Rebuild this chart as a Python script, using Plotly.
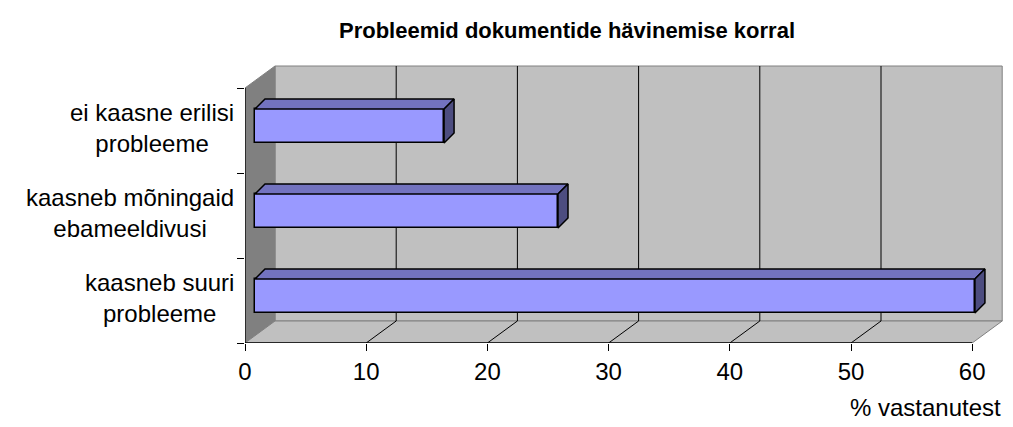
import numpy as np
import plotly.graph_objects as go

# data (bottom to top, as drawn)
categories = ["kaasneb suuri<br>probleeme",
              "kaasneb mõningaid<br>ebameeldivusi",
              "ei kaasne erilisi<br>probleeme"]
values = [59.4, 25.0, 15.6]
x_ticks = [0, 10, 20, 30, 40, 50, 60]
x_max = 60

# 3D look, in axis units (px / px-per-unit)
PX_X = 12.12          # px per % on x
PX_Y = 85.0           # px per category band
WALL_DX = 30 / PX_X   # depth offset of back wall
WALL_DY = 22 / PX_Y
BAR_X0 = 10 / PX_X    # front face of bars sits a bit inside
BAR_DX = 10 / PX_X    # bar depth
BAR_DY = 10 / PX_Y
BAR_UP = 4.5 / PX_Y
BAR_H = 0.2

n = len(categories)
pos = np.arange(n)
y_lo, y_hi = -0.5, n - 0.5

fig = go.Figure()

shapes = []


def poly(pts, fill, line="#808080", width=1, layer="below"):
    path = "M " + " L ".join(f"{x},{y}" for x, y in pts) + " Z"
    shapes.append(dict(type="path", path=path, xref="x", yref="y",
                       fillcolor=fill, line=dict(color=line, width=width),
                       layer=layer))


def seg(x0, y0, x1, y1, color="black", width=1, layer="below"):
    shapes.append(dict(type="line", x0=x0, y0=y0, x1=x1, y1=y1, xref="x", yref="y",
                       line=dict(color=color, width=width), layer=layer))


# walls and floor
poly([(WALL_DX, y_lo + WALL_DY), (x_max + WALL_DX, y_lo + WALL_DY),
      (x_max + WALL_DX, y_hi + WALL_DY), (WALL_DX, y_hi + WALL_DY)], "#c0c0c0")
poly([(0, y_lo), (0, y_hi), (WALL_DX, y_hi + WALL_DY), (WALL_DX, y_lo + WALL_DY)], "#808080")
poly([(0, y_lo), (x_max, y_lo), (x_max + WALL_DX, y_lo + WALL_DY),
      (WALL_DX, y_lo + WALL_DY)], "#c0c0c0")

# gridlines on back wall and floor
for t in x_ticks[1:-1]:
    seg(t + WALL_DX, y_lo + WALL_DY, t + WALL_DX, y_hi + WALL_DY)
    seg(t, y_lo, t + WALL_DX, y_lo + WALL_DY)

# axis lines
seg(0, y_lo, x_max, y_lo, width=1.3, layer="above")
seg(0, y_lo, 0, y_hi, width=1.3, layer="above")

# bar front faces
fig.add_trace(go.Bar(
    y=pos + BAR_UP,
    x=values,
    base=BAR_X0,
    orientation="h",
    width=2 * BAR_H,
    marker=dict(color="#9999ff", line=dict(color="black", width=1.5)),
    hoverinfo="skip",
    showlegend=False,
))

# top and side faces
for p, v in zip(pos, values):
    c = p + BAR_UP
    x0, x1 = BAR_X0, BAR_X0 + v
    top_x = [x0, x1, x1 + BAR_DX, x0 + BAR_DX, x0]
    top_y = [c + BAR_H, c + BAR_H, c + BAR_H + BAR_DY, c + BAR_H + BAR_DY, c + BAR_H]
    fig.add_trace(go.Scatter(x=top_x, y=top_y, fill="toself", mode="lines",
                             fillcolor="#7373bf", line=dict(color="black", width=1.5),
                             hoverinfo="skip", showlegend=False))
    side_x = [x1, x1 + BAR_DX, x1 + BAR_DX, x1, x1]
    side_y = [c + BAR_H, c + BAR_H + BAR_DY, c - BAR_H + BAR_DY, c - BAR_H, c + BAR_H]
    fig.add_trace(go.Scatter(x=side_x, y=side_y, fill="toself", mode="lines",
                             fillcolor="#4d4d80", line=dict(color="black", width=1.5),
                             hoverinfo="skip", showlegend=False))

W, H = 1013, 427
ml, mr, mt, mb = 245, 8, 60, 84
plot_h = H - mt - mb

# category labels
annotations = []
for p, cat in zip(pos, categories):
    annotations.append(dict(x=0, y=p + 0.03, xref="paper", yref="y", text=cat,
                            showarrow=False, xanchor="right", yanchor="middle",
                            align="center", xshift=-9,
                            font=dict(size=24, color="black")))
annotations.append(dict(x=1, y=-64 / plot_h, xref="paper", yref="paper",
                        text="% vastanutest", showarrow=False,
                        xanchor="right", yanchor="middle", xshift=-2,
                        font=dict(size=24, color="black")))

fig.update_layout(
    width=W, height=H,
    margin=dict(l=ml, r=mr, t=mt, b=mb),
    paper_bgcolor="white", plot_bgcolor="white",
    font=dict(family="Liberation Sans, Arial, sans-serif", color="black"),
    title=dict(text="<b>Probleemid dokumentide hävinemise korral</b>",
               x=567 / W, xanchor="center", xref="container",
               y=1 - 30 / H, yanchor="middle", yref="container",
               font=dict(size=22, color="black")),
    xaxis=dict(range=[0, (W - ml - mr) / PX_X], tickvals=x_ticks,
               ticks="outside", ticklen=7, tickcolor="black", tickwidth=1.3,
               showgrid=False, zeroline=False, showline=False,
               tickfont=dict(size=24)),
    yaxis=dict(range=[y_lo, y_lo + plot_h / PX_Y],
               tickvals=[y_lo + k for k in range(n + 1)],
               ticks="outside", ticklen=7, tickcolor="black", tickwidth=1.3,
               showticklabels=False, showgrid=False, zeroline=False, showline=False),
    shapes=shapes,
    annotations=annotations,
    bargap=0,
)

fig.write_html("out.html", config={"displayModeBar": False},
               post_script="document.body.style.margin='0';")
